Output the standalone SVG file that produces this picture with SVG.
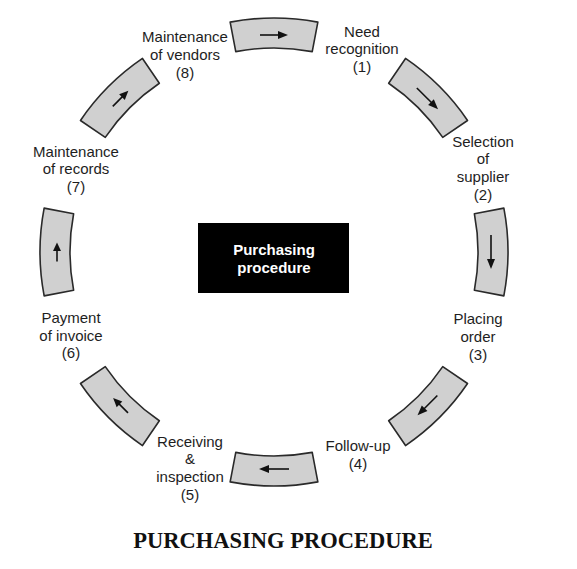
<svg xmlns="http://www.w3.org/2000/svg" width="577" height="569" viewBox="0 0 577 569">
<defs>
<style>
.seg{fill:#d0d0d0;stroke:#2a2a2a;stroke-width:1.6;stroke-linejoin:round}
.shaft{stroke:#111;stroke-width:1.6;fill:none}
.head{fill:#111;stroke:none}
.lbl{font-family:"Liberation Sans",Arial,sans-serif;font-size:15px;fill:#1e1e1e;text-anchor:middle}
.ctr{font-family:"Liberation Sans",Arial,sans-serif;font-size:15px;font-weight:bold;fill:#fff;text-anchor:middle}
.title{font-family:"Liberation Serif","Times New Roman",serif;font-size:22.5px;font-weight:bold;fill:#111;text-anchor:middle}
</style>
<path id="seg" class="seg" d="M230.15,22.14 A234,234 0 0 1 317.85,22.14 L312.23,51.61 A204,204 0 0 0 235.77,51.61 Z"/>
</defs>
<rect width="577" height="569" fill="#fff"/>
<g id="connectors">
<g transform="rotate(0 274 252)"><use href="#seg"/><line class="shaft" x1="260" y1="35" x2="279" y2="35"/><polygon class="head" points="278,31 288,35 278,39"/></g>
<g transform="rotate(45 274 252)"><use href="#seg"/><line class="shaft" x1="259" y1="35" x2="280" y2="35"/><polygon class="head" points="279,31 289,35 279,39"/></g>
<g transform="rotate(90 274 252)"><use href="#seg"/><line class="shaft" x1="257" y1="35" x2="282" y2="35"/><polygon class="head" points="281,31 291,35 281,39"/></g>
<g transform="rotate(135 274 252)"><use href="#seg"/><line class="shaft" x1="260" y1="35" x2="279" y2="35"/><polygon class="head" points="278,31 288,35 278,39"/></g>
<g transform="rotate(180 274 252)"><use href="#seg"/><line class="shaft" x1="259" y1="35" x2="280" y2="35"/><polygon class="head" points="279,31 289,35 279,39"/></g>
<g transform="rotate(225 274 252)"><use href="#seg"/><line class="shaft" x1="263.5" y1="35" x2="276.5" y2="35"/><polygon class="head" points="275.5,31 284.5,35 275.5,39"/></g>
<g transform="rotate(270 274 252)"><use href="#seg"/><line class="shaft" x1="264.5" y1="35" x2="276" y2="35"/><polygon class="head" points="275,31 283.5,35 275,39"/></g>
<g transform="rotate(315 274 252)"><use href="#seg"/><line class="shaft" x1="263" y1="35" x2="277" y2="35"/><polygon class="head" points="276,31 285,35 276,39"/></g>
</g>
<g id="center">
<rect x="198" y="223" width="151" height="70" fill="#000"/>
<text class="ctr" x="274" y="255">Purchasing</text>
<text class="ctr" x="274" y="273">procedure</text>
</g>
<g id="step1"><text class="lbl" x="362"><tspan x="362" y="37">Need</tspan><tspan x="362" y="54">recognition</tspan><tspan x="362" y="72">(1)</tspan></text></g>
<g id="step2"><text class="lbl"><tspan x="483" y="147">Selection</tspan><tspan x="483" y="164">of</tspan><tspan x="483" y="182">supplier</tspan><tspan x="483" y="200">(2)</tspan></text></g>
<g id="step3"><text class="lbl"><tspan x="478" y="324">Placing</tspan><tspan x="478" y="342">order</tspan><tspan x="478" y="360">(3)</tspan></text></g>
<g id="step4"><text class="lbl"><tspan x="358" y="451">Follow-up</tspan><tspan x="358" y="469">(4)</tspan></text></g>
<g id="step5"><text class="lbl"><tspan x="190" y="447">Receiving</tspan><tspan x="190" y="464">&amp;</tspan><tspan x="190" y="482">inspection</tspan><tspan x="190" y="500">(5)</tspan></text></g>
<g id="step6"><text class="lbl"><tspan x="71" y="323">Payment</tspan><tspan x="71" y="341">of invoice</tspan><tspan x="71" y="358">(6)</tspan></text></g>
<g id="step7"><text class="lbl"><tspan x="76" y="157">Maintenance</tspan><tspan x="76" y="174">of records</tspan><tspan x="76" y="192">(7)</tspan></text></g>
<g id="step8"><text class="lbl"><tspan x="185" y="42">Maintenance</tspan><tspan x="185" y="60">of vendors</tspan><tspan x="185" y="78">(8)</tspan></text></g>
<text class="title" x="283" y="548">PURCHASING PROCEDURE</text>
</svg>
